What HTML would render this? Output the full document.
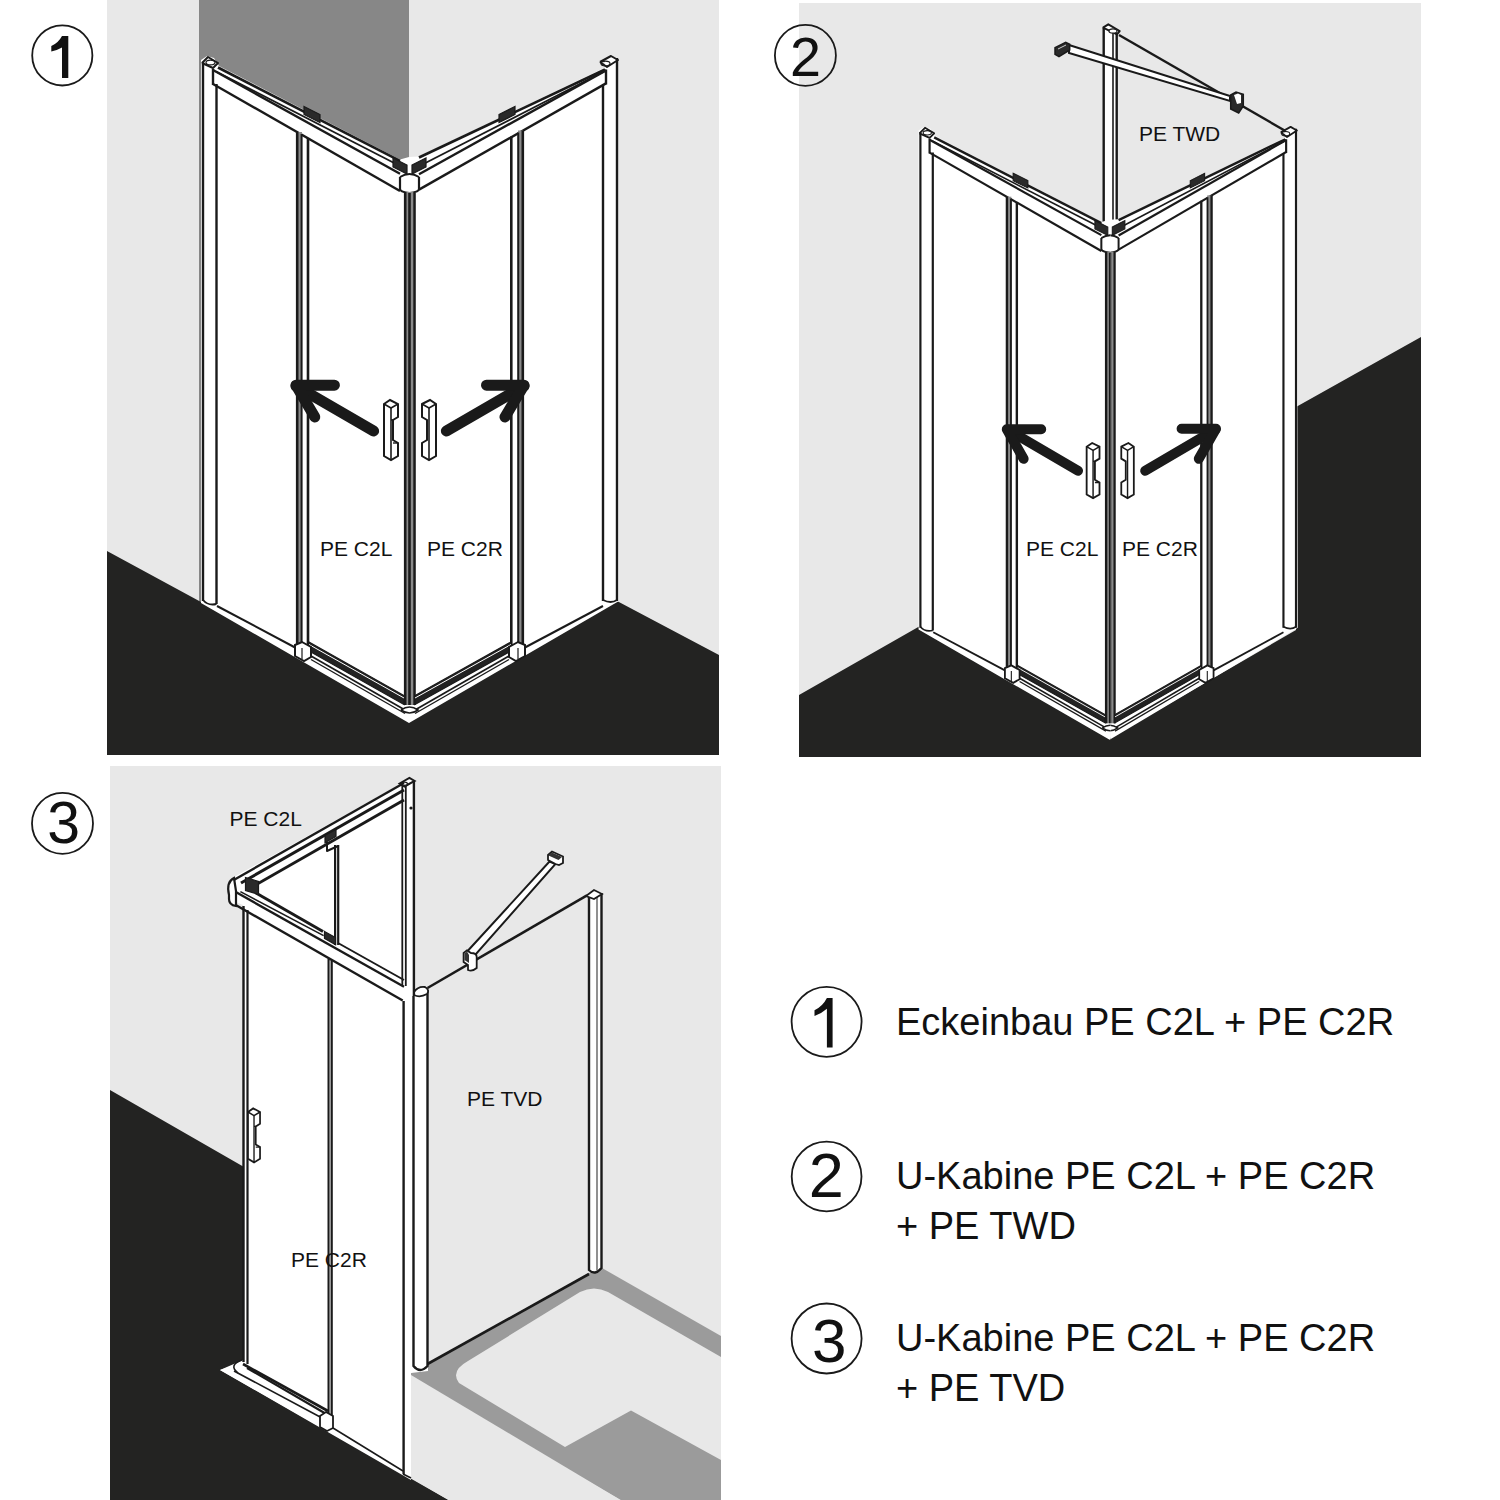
<!DOCTYPE html><html><head><meta charset="utf-8"><style>html,body{margin:0;padding:0;background:#fff;width:1500px;height:1500px;overflow:hidden}svg{display:block}text{font-family:"Liberation Sans",sans-serif;fill:#111}</style></head><body>
<svg width="1500" height="1500" viewBox="0 0 1500 1500">
<rect x="107" y="0" width="612" height="755" fill="#e8e8e8"/>
<rect x="199" y="0" width="210" height="606" fill="#878787"/>
<polygon points="107.0,551.0 201.0,602.0 409.0,722.0 617.0,601.0 719.0,655.0 719.0,755.0 107.0,755.0" fill="#232322" stroke="none" stroke-width="0" />
<polygon points="201.0,60.0 207.0,56.0 214.0,58.0 219.0,66.0 400.0,159.5 409.0,157.0 419.0,156.5 605.0,67.5 605.0,60.0 611.0,56.0 618.0,59.0 619.0,601.0 409.0,723.0 201.0,603.0" fill="#fff" stroke="none" stroke-width="0" />
<line x1="203.0" y1="62.0" x2="203.0" y2="601.0" stroke="#1a1a1a" stroke-width="2.4" />
<line x1="216.5" y1="84.0" x2="216.5" y2="604.0" stroke="#1a1a1a" stroke-width="2.4" />
<polyline points="202.0,63.0 208.0,57.0 218.0,63.0 213.0,68.0 202.0,63.0" fill="none" stroke="#1a1a1a" stroke-width="2" stroke-linejoin="round" />
<ellipse cx="210.5" cy="62.5" rx="4.5" ry="2.4" fill="none" stroke="#1a1a1a" stroke-width="1.2"/>
<line x1="218.0" y1="67.5" x2="400.0" y2="160.8" stroke="#1a1a1a" stroke-width="2.6" />
<line x1="216.0" y1="71.5" x2="400.0" y2="166.0" stroke="#1a1a1a" stroke-width="1.8" />
<line x1="213.0" y1="70.0" x2="400.0" y2="173.8" stroke="#1a1a1a" stroke-width="2.4" />
<line x1="213.0" y1="84.0" x2="400.0" y2="191.0" stroke="#1a1a1a" stroke-width="2.4" />
<line x1="213.0" y1="69.0" x2="213.0" y2="85.0" stroke="#1a1a1a" stroke-width="2.4" />
<line x1="605.0" y1="69.5" x2="419.0" y2="157.5" stroke="#1a1a1a" stroke-width="2.6" />
<line x1="605.0" y1="71.0" x2="419.0" y2="166.3" stroke="#1a1a1a" stroke-width="1.8" />
<line x1="606.0" y1="70.4" x2="419.0" y2="174.2" stroke="#1a1a1a" stroke-width="2.4" />
<line x1="606.0" y1="83.4" x2="419.0" y2="189.6" stroke="#1a1a1a" stroke-width="2.4" />
<line x1="606.0" y1="69.5" x2="606.0" y2="84.5" stroke="#1a1a1a" stroke-width="2.4" />
<line x1="617.0" y1="58.0" x2="617.0" y2="601.0" stroke="#1a1a1a" stroke-width="2.4" />
<line x1="603.0" y1="85.0" x2="603.0" y2="601.0" stroke="#1a1a1a" stroke-width="2.4" />
<polyline points="600.0,62.0 611.0,56.0 618.0,60.0 607.0,67.0 600.0,62.0" fill="none" stroke="#1a1a1a" stroke-width="2" stroke-linejoin="round" />
<ellipse cx="605.5" cy="63.5" rx="4.5" ry="2.4" fill="none" stroke="#1a1a1a" stroke-width="1.2"/>
<path d="M400,177 L400,189 Q400,192 409.5,193 Q419,192 419,189 L419,177" fill="#fff" stroke="#1a1a1a" stroke-width="2.2"/>
<path d="M400,177 Q409.5,171 419,177" fill="none" stroke="#1a1a1a" stroke-width="2"/>
<polygon points="393.0,158.0 407.0,165.0 407.0,174.0 393.0,167.0" fill="#2a2a2a" stroke="#1a1a1a" stroke-width="1.2" />
<polygon points="412.0,165.0 426.0,158.0 426.0,167.0 412.0,174.0" fill="#2a2a2a" stroke="#1a1a1a" stroke-width="1.2" />
<polygon points="304.0,106.5 320.0,114.5 320.0,122.5 304.0,114.5" fill="#2a2a2a" stroke="#1a1a1a" stroke-width="1.2" />
<polygon points="499.0,114.5 515.0,106.5 515.0,114.5 499.0,122.5" fill="#2a2a2a" stroke="#1a1a1a" stroke-width="1.2" />
<rect x="404" y="192" width="11.6" height="513" fill="#8a8a8a"/>
<line x1="405.2" y1="192.0" x2="405.2" y2="705.0" stroke="#1a1a1a" stroke-width="2.6" />
<line x1="409.5" y1="193.0" x2="409.5" y2="705.0" stroke="#1a1a1a" stroke-width="2.6" />
<line x1="414.5" y1="192.0" x2="414.5" y2="705.0" stroke="#1a1a1a" stroke-width="2.4" />
<rect x="297" y="132.0" width="5" height="516.0" fill="#8a8a8a"/>
<line x1="297.2" y1="132.0" x2="297.2" y2="648.0" stroke="#1a1a1a" stroke-width="2.6" />
<line x1="301.6" y1="134.0" x2="301.6" y2="648.0" stroke="#1a1a1a" stroke-width="2.0" />
<line x1="308.0" y1="138.0" x2="308.0" y2="645.0" stroke="#1a1a1a" stroke-width="2.6" />
<rect x="518" y="130.5" width="5" height="517.5" fill="#8a8a8a"/>
<line x1="511.3" y1="136.5" x2="511.3" y2="645.0" stroke="#1a1a1a" stroke-width="2.6" />
<line x1="518.2" y1="132.5" x2="518.2" y2="648.0" stroke="#1a1a1a" stroke-width="2.0" />
<line x1="522.8" y1="130.5" x2="522.8" y2="648.0" stroke="#1a1a1a" stroke-width="2.6" />
<line x1="217.0" y1="606.0" x2="296.0" y2="648.0" stroke="#1a1a1a" stroke-width="2" />
<polygon points="309.0,642.0 404.0,695.5 404.0,704.5 309.0,651.0" fill="#222" stroke="#1a1a1a" stroke-width="1.2" />
<line x1="309.0" y1="644.5" x2="404.0" y2="698.0" stroke="#fff" stroke-width="1.0" />
<line x1="311.0" y1="656.0" x2="405.0" y2="710.0" stroke="#1a1a1a" stroke-width="1.8" />
<line x1="311.0" y1="659.5" x2="405.0" y2="713.5" stroke="#1a1a1a" stroke-width="1.4" />
<polygon points="295.0,645.0 302.0,642.0 311.0,647.0 311.0,657.0 304.0,661.0 295.0,656.0" fill="#fff" stroke="#1a1a1a" stroke-width="2" />
<line x1="302.0" y1="648.0" x2="302.0" y2="659.0" stroke="#1a1a1a" stroke-width="1.2" />
<line x1="603.0" y1="606.0" x2="524.0" y2="648.0" stroke="#1a1a1a" stroke-width="2" />
<polygon points="511.0,642.0 415.0,695.5 415.0,704.5 511.0,651.0" fill="#222" stroke="#1a1a1a" stroke-width="1.2" />
<line x1="511.0" y1="644.5" x2="415.0" y2="698.0" stroke="#fff" stroke-width="1.0" />
<line x1="509.0" y1="656.0" x2="415.0" y2="710.0" stroke="#1a1a1a" stroke-width="1.8" />
<line x1="509.0" y1="659.5" x2="415.0" y2="713.5" stroke="#1a1a1a" stroke-width="1.4" />
<polygon points="525.0,645.0 518.0,642.0 509.0,647.0 509.0,657.0 516.0,661.0 525.0,656.0" fill="#fff" stroke="#1a1a1a" stroke-width="2" />
<line x1="518.0" y1="648.0" x2="518.0" y2="659.0" stroke="#1a1a1a" stroke-width="1.2" />
<path d="M401,710 Q409.5,704 418,710 Q409.5,716 401,710" fill="#fff" stroke="#1a1a1a" stroke-width="1.6"/>
<path d="M203,600 Q208,606 216.5,604" fill="none" stroke="#1a1a1a" stroke-width="1.8"/>
<path d="M603,600 Q611,604 617,600" fill="none" stroke="#1a1a1a" stroke-width="1.8"/>
<polyline points="373.6,431.0 296.0,386.0" fill="none" stroke="#1a1a1a" stroke-width="11" stroke-linejoin="round" stroke-linecap="round"/>
<polyline points="334.4,385.2 296.0,385.2 314.8,417.0" fill="none" stroke="#1a1a1a" stroke-width="11" stroke-linejoin="round" stroke-linecap="round"/>
<polyline points="446.4,431.0 524.0,386.0" fill="none" stroke="#1a1a1a" stroke-width="11" stroke-linejoin="round" stroke-linecap="round"/>
<polyline points="486.5,385.2 524.0,385.2 505.0,417.0" fill="none" stroke="#1a1a1a" stroke-width="11" stroke-linejoin="round" stroke-linecap="round"/>
<polygon points="384.0,404.0 390.0,400.0 398.0,404.0 398.0,417.0 393.0,420.0 393.0,440.0 398.0,443.0 398.0,456.0 391.0,460.0 384.0,456.0" fill="#fff" stroke="#1a1a1a" stroke-width="2" />
<polyline points="384.0,404.0 391.0,408.0 398.0,404.0" fill="none" stroke="#1a1a1a" stroke-width="1.6" stroke-linejoin="round" />
<polyline points="391.0,408.0 391.0,460.0" fill="none" stroke="#1a1a1a" stroke-width="1.6" stroke-linejoin="round" />
<polyline points="391.0,420.0 393.0,420.0" fill="none" stroke="#1a1a1a" stroke-width="1.4" stroke-linejoin="round" />
<polyline points="393.0,443.0 398.0,443.0" fill="none" stroke="#1a1a1a" stroke-width="1.4" stroke-linejoin="round" />
<polygon points="422.0,404.0 430.0,400.0 436.0,404.0 436.0,456.0 429.0,460.0 422.0,456.0 422.0,443.0 427.0,440.0 427.0,420.0 422.0,417.0" fill="#fff" stroke="#1a1a1a" stroke-width="2" />
<polyline points="422.0,404.0 429.0,408.0 436.0,404.0" fill="none" stroke="#1a1a1a" stroke-width="1.6" stroke-linejoin="round" />
<polyline points="429.0,408.0 429.0,460.0" fill="none" stroke="#1a1a1a" stroke-width="1.6" stroke-linejoin="round" />
<text x="320" y="556" font-size="21" text-anchor="start">PE C2L</text>
<text x="427" y="556" font-size="21" text-anchor="start">PE C2R</text>
<circle cx="62.3" cy="55.4" r="30.1" fill="none" stroke="#1a1a1a" stroke-width="1.8"/><path d="M62,36 L68.3,36 L68.3,78 L62,78 L62,47.5 Q57.2,50.3 51.3,51.5 L51.3,46 Q58.3,43.0 62,36 Z" fill="#111"/>
<rect x="799" y="3" width="622" height="754" fill="#e8e8e8"/>
<polygon points="799.0,695.0 920.0,626.0 1110.0,738.0 1296.0,630.0 1296.0,407.0 1421.0,337.0 1421.0,757.0 799.0,757.0" fill="#232322" stroke="none" stroke-width="0" />
<polygon points="1103.7,28.0 1108.3,24.3 1119.7,31.0 1116.7,34.0 1116.7,236.0 1103.7,236.0" fill="#fff" stroke="none" stroke-width="0" />
<line x1="1103.7" y1="27.0" x2="1103.7" y2="232.0" stroke="#1a1a1a" stroke-width="2.4" />
<line x1="1116.7" y1="33.0" x2="1116.7" y2="232.0" stroke="#1a1a1a" stroke-width="2.4" />
<line x1="1113.0" y1="33.0" x2="1113.0" y2="232.0" stroke="#1a1a1a" stroke-width="1.6" />
<polyline points="1103.0,27.7 1108.3,24.3 1119.7,31.0 1117.0,34.3 1103.0,27.7" fill="none" stroke="#1a1a1a" stroke-width="2" stroke-linejoin="round" />
<ellipse cx="1113" cy="31" rx="4" ry="2.2" fill="#fff" stroke="#1a1a1a" stroke-width="1.2"/>
<line x1="1119.0" y1="35.0" x2="1289.0" y2="133.0" stroke="#1a1a1a" stroke-width="2.4" />
<polygon points="1069.0,45.0 1230.0,96.0 1230.0,101.0 1069.0,53.0" fill="#fff" stroke="#1a1a1a" stroke-width="2" />
<polygon points="1055.0,47.7 1065.7,42.3 1069.7,44.3 1069.7,50.0 1059.0,56.7 1055.0,54.3" fill="#2a2a2a" stroke="#1a1a1a" stroke-width="1.5" />
<line x1="1058.0" y1="49.0" x2="1066.0" y2="45.0" stroke="#ccc" stroke-width="1" />
<polygon points="1230.7,95.0 1236.0,92.0 1243.3,94.3 1243.3,106.0 1238.7,113.0 1230.7,109.0" fill="#2a2a2a" stroke="#1a1a1a" stroke-width="1.5" />
<polygon points="1234.0,95.0 1238.0,93.5 1241.0,95.0 1241.0,103.0 1237.0,104.0" fill="#fff" stroke="none" stroke-width="0" />
<defs><clipPath id="clL" clipPathUnits="userSpaceOnUse"><rect x="150" y="0" width="259.75" height="800"/></clipPath><clipPath id="clR" clipPathUnits="userSpaceOnUse"><rect x="409.75" y="0" width="260" height="800"/></clipPath></defs>
<g transform="translate(920.4,128.7) scale(0.9185,0.919) translate(-203,-58)"><g clip-path="url(#clL)"><polygon points="201.0,60.0 207.0,56.0 214.0,58.0 219.0,66.0 400.0,159.5 409.0,157.0 419.0,156.5 605.0,67.5 605.0,60.0 611.0,56.0 618.0,59.0 619.0,601.0 409.0,723.0 201.0,603.0" fill="#fff" stroke="none" stroke-width="0" />
<line x1="203.0" y1="62.0" x2="203.0" y2="601.0" stroke="#1a1a1a" stroke-width="2.4" />
<line x1="216.5" y1="84.0" x2="216.5" y2="604.0" stroke="#1a1a1a" stroke-width="2.4" />
<polyline points="202.0,63.0 208.0,57.0 218.0,63.0 213.0,68.0 202.0,63.0" fill="none" stroke="#1a1a1a" stroke-width="2" stroke-linejoin="round" />
<ellipse cx="210.5" cy="62.5" rx="4.5" ry="2.4" fill="none" stroke="#1a1a1a" stroke-width="1.2"/>
<line x1="218.0" y1="67.5" x2="400.0" y2="160.8" stroke="#1a1a1a" stroke-width="2.6" />
<line x1="216.0" y1="71.5" x2="400.0" y2="166.0" stroke="#1a1a1a" stroke-width="1.8" />
<line x1="213.0" y1="70.0" x2="400.0" y2="173.8" stroke="#1a1a1a" stroke-width="2.4" />
<line x1="213.0" y1="84.0" x2="400.0" y2="191.0" stroke="#1a1a1a" stroke-width="2.4" />
<line x1="213.0" y1="69.0" x2="213.0" y2="85.0" stroke="#1a1a1a" stroke-width="2.4" />
<line x1="605.0" y1="69.5" x2="419.0" y2="157.5" stroke="#1a1a1a" stroke-width="2.6" />
<line x1="605.0" y1="71.0" x2="419.0" y2="166.3" stroke="#1a1a1a" stroke-width="1.8" />
<line x1="606.0" y1="70.4" x2="419.0" y2="174.2" stroke="#1a1a1a" stroke-width="2.4" />
<line x1="606.0" y1="83.4" x2="419.0" y2="189.6" stroke="#1a1a1a" stroke-width="2.4" />
<line x1="606.0" y1="69.5" x2="606.0" y2="84.5" stroke="#1a1a1a" stroke-width="2.4" />
<line x1="617.0" y1="58.0" x2="617.0" y2="601.0" stroke="#1a1a1a" stroke-width="2.4" />
<line x1="603.0" y1="85.0" x2="603.0" y2="601.0" stroke="#1a1a1a" stroke-width="2.4" />
<polyline points="600.0,62.0 611.0,56.0 618.0,60.0 607.0,67.0 600.0,62.0" fill="none" stroke="#1a1a1a" stroke-width="2" stroke-linejoin="round" />
<ellipse cx="605.5" cy="63.5" rx="4.5" ry="2.4" fill="none" stroke="#1a1a1a" stroke-width="1.2"/>
<path d="M400,177 L400,189 Q400,192 409.5,193 Q419,192 419,189 L419,177" fill="#fff" stroke="#1a1a1a" stroke-width="2.2"/>
<path d="M400,177 Q409.5,171 419,177" fill="none" stroke="#1a1a1a" stroke-width="2"/>
<polygon points="393.0,158.0 407.0,165.0 407.0,174.0 393.0,167.0" fill="#2a2a2a" stroke="#1a1a1a" stroke-width="1.2" />
<polygon points="412.0,165.0 426.0,158.0 426.0,167.0 412.0,174.0" fill="#2a2a2a" stroke="#1a1a1a" stroke-width="1.2" />
<polygon points="304.0,106.5 320.0,114.5 320.0,122.5 304.0,114.5" fill="#2a2a2a" stroke="#1a1a1a" stroke-width="1.2" />
<polygon points="499.0,114.5 515.0,106.5 515.0,114.5 499.0,122.5" fill="#2a2a2a" stroke="#1a1a1a" stroke-width="1.2" />
<rect x="404" y="192" width="11.6" height="513" fill="#8a8a8a"/>
<line x1="405.2" y1="192.0" x2="405.2" y2="705.0" stroke="#1a1a1a" stroke-width="2.6" />
<line x1="409.5" y1="193.0" x2="409.5" y2="705.0" stroke="#1a1a1a" stroke-width="2.6" />
<line x1="414.5" y1="192.0" x2="414.5" y2="705.0" stroke="#1a1a1a" stroke-width="2.4" />
<rect x="297" y="132.0" width="5" height="516.0" fill="#8a8a8a"/>
<line x1="297.2" y1="132.0" x2="297.2" y2="648.0" stroke="#1a1a1a" stroke-width="2.6" />
<line x1="301.6" y1="134.0" x2="301.6" y2="648.0" stroke="#1a1a1a" stroke-width="2.0" />
<line x1="308.0" y1="138.0" x2="308.0" y2="645.0" stroke="#1a1a1a" stroke-width="2.6" />
<rect x="518" y="130.5" width="5" height="517.5" fill="#8a8a8a"/>
<line x1="511.3" y1="136.5" x2="511.3" y2="645.0" stroke="#1a1a1a" stroke-width="2.6" />
<line x1="518.2" y1="132.5" x2="518.2" y2="648.0" stroke="#1a1a1a" stroke-width="2.0" />
<line x1="522.8" y1="130.5" x2="522.8" y2="648.0" stroke="#1a1a1a" stroke-width="2.6" />
<line x1="217.0" y1="606.0" x2="296.0" y2="648.0" stroke="#1a1a1a" stroke-width="2" />
<polygon points="309.0,642.0 404.0,695.5 404.0,704.5 309.0,651.0" fill="#222" stroke="#1a1a1a" stroke-width="1.2" />
<line x1="309.0" y1="644.5" x2="404.0" y2="698.0" stroke="#fff" stroke-width="1.0" />
<line x1="311.0" y1="656.0" x2="405.0" y2="710.0" stroke="#1a1a1a" stroke-width="1.8" />
<line x1="311.0" y1="659.5" x2="405.0" y2="713.5" stroke="#1a1a1a" stroke-width="1.4" />
<polygon points="295.0,645.0 302.0,642.0 311.0,647.0 311.0,657.0 304.0,661.0 295.0,656.0" fill="#fff" stroke="#1a1a1a" stroke-width="2" />
<line x1="302.0" y1="648.0" x2="302.0" y2="659.0" stroke="#1a1a1a" stroke-width="1.2" />
<line x1="603.0" y1="606.0" x2="524.0" y2="648.0" stroke="#1a1a1a" stroke-width="2" />
<polygon points="511.0,642.0 415.0,695.5 415.0,704.5 511.0,651.0" fill="#222" stroke="#1a1a1a" stroke-width="1.2" />
<line x1="511.0" y1="644.5" x2="415.0" y2="698.0" stroke="#fff" stroke-width="1.0" />
<line x1="509.0" y1="656.0" x2="415.0" y2="710.0" stroke="#1a1a1a" stroke-width="1.8" />
<line x1="509.0" y1="659.5" x2="415.0" y2="713.5" stroke="#1a1a1a" stroke-width="1.4" />
<polygon points="525.0,645.0 518.0,642.0 509.0,647.0 509.0,657.0 516.0,661.0 525.0,656.0" fill="#fff" stroke="#1a1a1a" stroke-width="2" />
<line x1="518.0" y1="648.0" x2="518.0" y2="659.0" stroke="#1a1a1a" stroke-width="1.2" />
<path d="M401,710 Q409.5,704 418,710 Q409.5,716 401,710" fill="#fff" stroke="#1a1a1a" stroke-width="1.6"/>
<path d="M203,600 Q208,606 216.5,604" fill="none" stroke="#1a1a1a" stroke-width="1.8"/>
<path d="M603,600 Q611,604 617,600" fill="none" stroke="#1a1a1a" stroke-width="1.8"/>
<polygon points="384.0,404.0 390.0,400.0 398.0,404.0 398.0,417.0 393.0,420.0 393.0,440.0 398.0,443.0 398.0,456.0 391.0,460.0 384.0,456.0" fill="#fff" stroke="#1a1a1a" stroke-width="2" />
<polyline points="384.0,404.0 391.0,408.0 398.0,404.0" fill="none" stroke="#1a1a1a" stroke-width="1.6" stroke-linejoin="round" />
<polyline points="391.0,408.0 391.0,460.0" fill="none" stroke="#1a1a1a" stroke-width="1.6" stroke-linejoin="round" />
<polyline points="391.0,420.0 393.0,420.0" fill="none" stroke="#1a1a1a" stroke-width="1.4" stroke-linejoin="round" />
<polyline points="393.0,443.0 398.0,443.0" fill="none" stroke="#1a1a1a" stroke-width="1.4" stroke-linejoin="round" />
<polygon points="422.0,404.0 430.0,400.0 436.0,404.0 436.0,456.0 429.0,460.0 422.0,456.0 422.0,443.0 427.0,440.0 427.0,420.0 422.0,417.0" fill="#fff" stroke="#1a1a1a" stroke-width="2" />
<polyline points="422.0,404.0 429.0,408.0 436.0,404.0" fill="none" stroke="#1a1a1a" stroke-width="1.6" stroke-linejoin="round" />
<polyline points="429.0,408.0 429.0,460.0" fill="none" stroke="#1a1a1a" stroke-width="1.6" stroke-linejoin="round" /></g></g>
<g transform="translate(1110.3,128.7) scale(0.896,0.919) translate(-409.75,-58)"><g clip-path="url(#clR)"><polygon points="201.0,60.0 207.0,56.0 214.0,58.0 219.0,66.0 400.0,159.5 409.0,157.0 419.0,156.5 605.0,67.5 605.0,60.0 611.0,56.0 618.0,59.0 619.0,601.0 409.0,723.0 201.0,603.0" fill="#fff" stroke="none" stroke-width="0" />
<line x1="203.0" y1="62.0" x2="203.0" y2="601.0" stroke="#1a1a1a" stroke-width="2.4" />
<line x1="216.5" y1="84.0" x2="216.5" y2="604.0" stroke="#1a1a1a" stroke-width="2.4" />
<polyline points="202.0,63.0 208.0,57.0 218.0,63.0 213.0,68.0 202.0,63.0" fill="none" stroke="#1a1a1a" stroke-width="2" stroke-linejoin="round" />
<ellipse cx="210.5" cy="62.5" rx="4.5" ry="2.4" fill="none" stroke="#1a1a1a" stroke-width="1.2"/>
<line x1="218.0" y1="67.5" x2="400.0" y2="160.8" stroke="#1a1a1a" stroke-width="2.6" />
<line x1="216.0" y1="71.5" x2="400.0" y2="166.0" stroke="#1a1a1a" stroke-width="1.8" />
<line x1="213.0" y1="70.0" x2="400.0" y2="173.8" stroke="#1a1a1a" stroke-width="2.4" />
<line x1="213.0" y1="84.0" x2="400.0" y2="191.0" stroke="#1a1a1a" stroke-width="2.4" />
<line x1="213.0" y1="69.0" x2="213.0" y2="85.0" stroke="#1a1a1a" stroke-width="2.4" />
<line x1="605.0" y1="69.5" x2="419.0" y2="157.5" stroke="#1a1a1a" stroke-width="2.6" />
<line x1="605.0" y1="71.0" x2="419.0" y2="166.3" stroke="#1a1a1a" stroke-width="1.8" />
<line x1="606.0" y1="70.4" x2="419.0" y2="174.2" stroke="#1a1a1a" stroke-width="2.4" />
<line x1="606.0" y1="83.4" x2="419.0" y2="189.6" stroke="#1a1a1a" stroke-width="2.4" />
<line x1="606.0" y1="69.5" x2="606.0" y2="84.5" stroke="#1a1a1a" stroke-width="2.4" />
<line x1="617.0" y1="58.0" x2="617.0" y2="601.0" stroke="#1a1a1a" stroke-width="2.4" />
<line x1="603.0" y1="85.0" x2="603.0" y2="601.0" stroke="#1a1a1a" stroke-width="2.4" />
<polyline points="600.0,62.0 611.0,56.0 618.0,60.0 607.0,67.0 600.0,62.0" fill="none" stroke="#1a1a1a" stroke-width="2" stroke-linejoin="round" />
<ellipse cx="605.5" cy="63.5" rx="4.5" ry="2.4" fill="none" stroke="#1a1a1a" stroke-width="1.2"/>
<path d="M400,177 L400,189 Q400,192 409.5,193 Q419,192 419,189 L419,177" fill="#fff" stroke="#1a1a1a" stroke-width="2.2"/>
<path d="M400,177 Q409.5,171 419,177" fill="none" stroke="#1a1a1a" stroke-width="2"/>
<polygon points="393.0,158.0 407.0,165.0 407.0,174.0 393.0,167.0" fill="#2a2a2a" stroke="#1a1a1a" stroke-width="1.2" />
<polygon points="412.0,165.0 426.0,158.0 426.0,167.0 412.0,174.0" fill="#2a2a2a" stroke="#1a1a1a" stroke-width="1.2" />
<polygon points="304.0,106.5 320.0,114.5 320.0,122.5 304.0,114.5" fill="#2a2a2a" stroke="#1a1a1a" stroke-width="1.2" />
<polygon points="499.0,114.5 515.0,106.5 515.0,114.5 499.0,122.5" fill="#2a2a2a" stroke="#1a1a1a" stroke-width="1.2" />
<rect x="404" y="192" width="11.6" height="513" fill="#8a8a8a"/>
<line x1="405.2" y1="192.0" x2="405.2" y2="705.0" stroke="#1a1a1a" stroke-width="2.6" />
<line x1="409.5" y1="193.0" x2="409.5" y2="705.0" stroke="#1a1a1a" stroke-width="2.6" />
<line x1="414.5" y1="192.0" x2="414.5" y2="705.0" stroke="#1a1a1a" stroke-width="2.4" />
<rect x="297" y="132.0" width="5" height="516.0" fill="#8a8a8a"/>
<line x1="297.2" y1="132.0" x2="297.2" y2="648.0" stroke="#1a1a1a" stroke-width="2.6" />
<line x1="301.6" y1="134.0" x2="301.6" y2="648.0" stroke="#1a1a1a" stroke-width="2.0" />
<line x1="308.0" y1="138.0" x2="308.0" y2="645.0" stroke="#1a1a1a" stroke-width="2.6" />
<rect x="518" y="130.5" width="5" height="517.5" fill="#8a8a8a"/>
<line x1="511.3" y1="136.5" x2="511.3" y2="645.0" stroke="#1a1a1a" stroke-width="2.6" />
<line x1="518.2" y1="132.5" x2="518.2" y2="648.0" stroke="#1a1a1a" stroke-width="2.0" />
<line x1="522.8" y1="130.5" x2="522.8" y2="648.0" stroke="#1a1a1a" stroke-width="2.6" />
<line x1="217.0" y1="606.0" x2="296.0" y2="648.0" stroke="#1a1a1a" stroke-width="2" />
<polygon points="309.0,642.0 404.0,695.5 404.0,704.5 309.0,651.0" fill="#222" stroke="#1a1a1a" stroke-width="1.2" />
<line x1="309.0" y1="644.5" x2="404.0" y2="698.0" stroke="#fff" stroke-width="1.0" />
<line x1="311.0" y1="656.0" x2="405.0" y2="710.0" stroke="#1a1a1a" stroke-width="1.8" />
<line x1="311.0" y1="659.5" x2="405.0" y2="713.5" stroke="#1a1a1a" stroke-width="1.4" />
<polygon points="295.0,645.0 302.0,642.0 311.0,647.0 311.0,657.0 304.0,661.0 295.0,656.0" fill="#fff" stroke="#1a1a1a" stroke-width="2" />
<line x1="302.0" y1="648.0" x2="302.0" y2="659.0" stroke="#1a1a1a" stroke-width="1.2" />
<line x1="603.0" y1="606.0" x2="524.0" y2="648.0" stroke="#1a1a1a" stroke-width="2" />
<polygon points="511.0,642.0 415.0,695.5 415.0,704.5 511.0,651.0" fill="#222" stroke="#1a1a1a" stroke-width="1.2" />
<line x1="511.0" y1="644.5" x2="415.0" y2="698.0" stroke="#fff" stroke-width="1.0" />
<line x1="509.0" y1="656.0" x2="415.0" y2="710.0" stroke="#1a1a1a" stroke-width="1.8" />
<line x1="509.0" y1="659.5" x2="415.0" y2="713.5" stroke="#1a1a1a" stroke-width="1.4" />
<polygon points="525.0,645.0 518.0,642.0 509.0,647.0 509.0,657.0 516.0,661.0 525.0,656.0" fill="#fff" stroke="#1a1a1a" stroke-width="2" />
<line x1="518.0" y1="648.0" x2="518.0" y2="659.0" stroke="#1a1a1a" stroke-width="1.2" />
<path d="M401,710 Q409.5,704 418,710 Q409.5,716 401,710" fill="#fff" stroke="#1a1a1a" stroke-width="1.6"/>
<path d="M203,600 Q208,606 216.5,604" fill="none" stroke="#1a1a1a" stroke-width="1.8"/>
<path d="M603,600 Q611,604 617,600" fill="none" stroke="#1a1a1a" stroke-width="1.8"/>
<polygon points="384.0,404.0 390.0,400.0 398.0,404.0 398.0,417.0 393.0,420.0 393.0,440.0 398.0,443.0 398.0,456.0 391.0,460.0 384.0,456.0" fill="#fff" stroke="#1a1a1a" stroke-width="2" />
<polyline points="384.0,404.0 391.0,408.0 398.0,404.0" fill="none" stroke="#1a1a1a" stroke-width="1.6" stroke-linejoin="round" />
<polyline points="391.0,408.0 391.0,460.0" fill="none" stroke="#1a1a1a" stroke-width="1.6" stroke-linejoin="round" />
<polyline points="391.0,420.0 393.0,420.0" fill="none" stroke="#1a1a1a" stroke-width="1.4" stroke-linejoin="round" />
<polyline points="393.0,443.0 398.0,443.0" fill="none" stroke="#1a1a1a" stroke-width="1.4" stroke-linejoin="round" />
<polygon points="422.0,404.0 430.0,400.0 436.0,404.0 436.0,456.0 429.0,460.0 422.0,456.0 422.0,443.0 427.0,440.0 427.0,420.0 422.0,417.0" fill="#fff" stroke="#1a1a1a" stroke-width="2" />
<polyline points="422.0,404.0 429.0,408.0 436.0,404.0" fill="none" stroke="#1a1a1a" stroke-width="1.6" stroke-linejoin="round" />
<polyline points="429.0,408.0 429.0,460.0" fill="none" stroke="#1a1a1a" stroke-width="1.6" stroke-linejoin="round" /></g></g>
<polyline points="1078.0,470.8 1007.5,429.5" fill="none" stroke="#1a1a1a" stroke-width="10" stroke-linejoin="round" stroke-linecap="round"/>
<polyline points="1041.2,429.2 1006.8,429.2 1023.6,458.8" fill="none" stroke="#1a1a1a" stroke-width="10" stroke-linejoin="round" stroke-linecap="round"/>
<polyline points="1145.2,470.8 1215.5,429.5" fill="none" stroke="#1a1a1a" stroke-width="10" stroke-linejoin="round" stroke-linecap="round"/>
<polyline points="1181.6,428.8 1216.0,428.8 1198.8,458.8" fill="none" stroke="#1a1a1a" stroke-width="10" stroke-linejoin="round" stroke-linecap="round"/>
<text x="1026" y="556" font-size="21" text-anchor="start">PE C2L</text>
<text x="1122" y="556" font-size="21" text-anchor="start">PE C2R</text>
<text x="1139" y="141" font-size="21" text-anchor="start">PE TWD</text>
<circle cx="805.4" cy="55.4" r="30.5" fill="none" stroke="#1a1a1a" stroke-width="1.8"/><text x="789.96" y="75.75" font-size="55.7">2</text>
<rect x="110" y="766" width="611" height="734" fill="#e8e8e8"/>
<polygon points="110.0,1090.0 244.0,1167.0 244.0,1362.0 220.0,1370.0 452.0,1502.0 110.0,1502.0" fill="#232322" stroke="none" stroke-width="0" />
<polygon points="411.0,1373.0 427.0,1364.0 589.0,1273.0 602.0,1268.0 721.0,1336.0 721.0,1502.0 624.0,1502.0 411.0,1379.0" fill="#9b9b9b" stroke="none" stroke-width="0" />
<path d="M468,1361 Q450,1371 459,1383 L565,1447 L631,1410.6 L721,1460 L721,1357 L608,1292 Q594,1285 580,1292 Z" fill="#e8e8e8"/>
<polygon points="411.0,1375.0 624.0,1502.0 452.0,1502.0 411.0,1478.0" fill="#e8e8e8" stroke="none" stroke-width="0" />
<polygon points="231.0,880.0 236.0,876.0 404.0,782.0 414.0,780.0 414.0,1000.0 428.0,992.0 428.0,1371.0 411.0,1373.0 411.0,1480.0 220.0,1370.0 243.0,1360.0 243.0,905.0 231.0,900.0" fill="#fff" stroke="none" stroke-width="0" />
<path d="M413.5,996 L413.5,1366 Q420,1374 427.5,1366 L427.5,990" fill="#fff" stroke="#1a1a1a" stroke-width="2.4"/>
<path d="M414,992 Q418,986 425,987 Q430,990 427,994 Q420,998 414,995 Z" fill="#fff" stroke="#1a1a1a" stroke-width="1.8"/>
<line x1="427.5" y1="988.0" x2="587.0" y2="895.3" stroke="#1a1a1a" stroke-width="2.6" />
<line x1="427.5" y1="1364.0" x2="589.0" y2="1274.0" stroke="#1a1a1a" stroke-width="2.6" />
<path d="M589,897 L589,1270 Q595,1276 601.5,1268 L601.5,893" fill="#fff" stroke="#1a1a1a" stroke-width="2.4"/>
<line x1="597.0" y1="893.0" x2="597.0" y2="1270.0" stroke="#555" stroke-width="1.3" />
<path d="M586,896 L594,890 L602,894 L594,899 Z" fill="#fff" stroke="#1a1a1a" stroke-width="1.8"/>
<polygon points="466.7,952.0 549.5,861.5 555.5,864.0 473.6,956.6" fill="#fff" stroke="#1a1a1a" stroke-width="2" />
<polygon points="548.0,855.0 552.0,851.5 563.0,856.5 563.0,863.0 559.0,865.0 555.5,864.0 548.0,860.0" fill="#fff" stroke="#1a1a1a" stroke-width="1.8" />
<polygon points="548.5,855.5 552.0,852.5 562.0,857.0 558.5,860.0" fill="#333" stroke="none" stroke-width="0" />
<path d="M463.6,953 L467,950.4 L471,953 Q476.7,953 476.7,957 L476.7,968 Q472,972 468,970 L468,965 L463.6,962 Z" fill="#fff" stroke="#1a1a1a" stroke-width="1.8"/>
<polygon points="464.5,953.5 467.0,951.5 469.0,955.0 469.0,963.0 464.5,960.0" fill="#333" stroke="none" stroke-width="0" />
<line x1="413.9" y1="781.0" x2="413.9" y2="996.0" stroke="#1a1a1a" stroke-width="2.4" />
<line x1="405.8" y1="786.0" x2="405.8" y2="986.0" stroke="#1a1a1a" stroke-width="1.8" />
<polygon points="399.6,783.5 409.4,777.8 414.6,781.0 404.5,786.5" fill="#fff" stroke="#1a1a1a" stroke-width="2" />
<ellipse cx="404.2" cy="783.8" rx="3.2" ry="1.6" fill="#fff" stroke="#1a1a1a" stroke-width="1.2"/>
<line x1="402.3" y1="786.0" x2="402.3" y2="986.0" stroke="#1a1a1a" stroke-width="1.8" />
<circle cx="411" cy="808" r="1.6" fill="#1a1a1a"/>
<line x1="232.0" y1="881.0" x2="404.0" y2="783.0" stroke="#1a1a1a" stroke-width="2.4" />
<line x1="241.0" y1="883.0" x2="404.0" y2="790.0" stroke="#1a1a1a" stroke-width="3" />
<line x1="252.0" y1="887.0" x2="404.0" y2="800.0" stroke="#1a1a1a" stroke-width="3" />
<line x1="335.1" y1="845.0" x2="335.1" y2="945.0" stroke="#1a1a1a" stroke-width="2.2" />
<line x1="338.2" y1="845.0" x2="338.2" y2="945.0" stroke="#1a1a1a" stroke-width="2.2" />
<polygon points="325.0,835.6 336.0,829.4 336.0,836.4 325.0,842.6" fill="#2a2a2a" stroke="#1a1a1a" stroke-width="1.2" />
<polyline points="327.0,842.0 327.0,851.0 338.0,846.0" fill="none" stroke="#1a1a1a" stroke-width="2" stroke-linejoin="round" />
<line x1="256.0" y1="893.0" x2="323.0" y2="931.5" stroke="#1a1a1a" stroke-width="3" />
<line x1="240.4" y1="891.6" x2="323.6" y2="935.6" stroke="#1a1a1a" stroke-width="1.6" />
<line x1="338.0" y1="943.0" x2="404.0" y2="980.0" stroke="#1a1a1a" stroke-width="2" />
<line x1="234.0" y1="891.0" x2="404.0" y2="986.7" stroke="#1a1a1a" stroke-width="2.4" />
<line x1="234.0" y1="904.0" x2="402.7" y2="1000.5" stroke="#1a1a1a" stroke-width="2.4" />
<polygon points="324.5,931.4 335.5,937.6 335.5,944.6 324.5,938.4" fill="#2a2a2a" stroke="#1a1a1a" stroke-width="1.2" />
<path d="M234,878 Q226,882 229,895 L229,899 Q229,905 236,906 L236,891 Z" fill="#fff" stroke="#1a1a1a" stroke-width="2.2"/>
<polygon points="245.5,877.5 258.5,881.5 258.5,894.5 245.5,890.5" fill="#2a2a2a" stroke="#1a1a1a" stroke-width="1.2" />
<line x1="243.5" y1="906.0" x2="243.5" y2="1362.0" stroke="#1a1a1a" stroke-width="2.4" />
<line x1="247.5" y1="910.0" x2="247.5" y2="1364.0" stroke="#1a1a1a" stroke-width="2.2" />
<line x1="328.6" y1="959.0" x2="328.6" y2="1420.0" stroke="#1a1a1a" stroke-width="2.2" />
<line x1="331.7" y1="960.0" x2="331.7" y2="1420.0" stroke="#1a1a1a" stroke-width="2.2" />
<line x1="330.2" y1="961.0" x2="330.2" y2="1418.0" stroke="#999" stroke-width="1.2" />
<line x1="403.6" y1="1001.0" x2="403.6" y2="1474.0" stroke="#1a1a1a" stroke-width="2.4" />
<line x1="243.0" y1="1364.0" x2="328.0" y2="1411.0" stroke="#1a1a1a" stroke-width="2.6" />
<line x1="247.0" y1="1368.0" x2="328.0" y2="1415.0" stroke="#1a1a1a" stroke-width="2.2" />
<line x1="234.0" y1="1371.0" x2="322.0" y2="1418.0" stroke="#1a1a1a" stroke-width="1.6" />
<path d="M242,1360 Q228,1365 238,1373" fill="none" stroke="#1a1a1a" stroke-width="1.6"/>
<polygon points="320.0,1416.0 326.0,1412.0 333.0,1416.0 333.0,1428.0 327.0,1431.0 320.0,1427.0" fill="#fff" stroke="#1a1a1a" stroke-width="1.8" />
<line x1="333.0" y1="1428.0" x2="403.0" y2="1471.0" stroke="#1a1a1a" stroke-width="1.6" />
<line x1="403.0" y1="1474.0" x2="411.0" y2="1478.0" stroke="#1a1a1a" stroke-width="1.6" />
<g transform="translate(248,1107.5) scale(0.86,0.9) translate(-248,-1108)"><polygon points="248.0,1113.0 254.0,1109.0 262.0,1113.0 262.0,1126.0 257.0,1129.0 257.0,1149.0 262.0,1152.0 262.0,1165.0 255.0,1169.0 248.0,1165.0" fill="#fff" stroke="#1a1a1a" stroke-width="2" />
<polyline points="248.0,1113.0 255.0,1117.0 262.0,1113.0" fill="none" stroke="#1a1a1a" stroke-width="1.6" stroke-linejoin="round" />
<polyline points="255.0,1117.0 255.0,1169.0" fill="none" stroke="#1a1a1a" stroke-width="1.6" stroke-linejoin="round" />
<polyline points="255.0,1129.0 257.0,1129.0" fill="none" stroke="#1a1a1a" stroke-width="1.4" stroke-linejoin="round" />
<polyline points="257.0,1152.0 262.0,1152.0" fill="none" stroke="#1a1a1a" stroke-width="1.4" stroke-linejoin="round" /></g>
<text x="229.5" y="826" font-size="21" text-anchor="start">PE C2L</text>
<text x="291" y="1267" font-size="21" text-anchor="start">PE C2R</text>
<text x="467" y="1106" font-size="21" text-anchor="start">PE TVD</text>
<circle cx="62.5" cy="823.4" r="30.5" fill="none" stroke="#1a1a1a" stroke-width="1.8"/><text x="47.3" y="843.2" font-size="59">3</text>
<circle cx="826.6" cy="1021.8" r="35" fill="none" stroke="#1a1a1a" stroke-width="1.8"/><path d="M826.9,998 L832.6,998 L832.6,1047.6 L826.9,1047.6 L826.9,1008.8 Q821.3,1013.8 814.5,1015.9 L814.5,1010.2 Q822.6,1006.5 826.9,998 Z" fill="#111"/>
<circle cx="826.6" cy="1176.5" r="34.9" fill="none" stroke="#1a1a1a" stroke-width="1.8"/><text x="808.75" y="1196.7" font-size="63">2</text>
<circle cx="826.6" cy="1338.5" r="35" fill="none" stroke="#1a1a1a" stroke-width="1.8"/><text x="812.1" y="1362" font-size="62">3</text>
<text x="896" y="1035" font-size="38" text-anchor="start">Eckeinbau PE C2L + PE C2R</text>
<text x="896" y="1188.8" font-size="38" text-anchor="start">U-Kabine PE C2L + PE C2R</text>
<text x="896" y="1238.6" font-size="38" text-anchor="start">+ PE TWD</text>
<text x="896" y="1351.3" font-size="38" text-anchor="start">U-Kabine PE C2L + PE C2R</text>
<text x="896" y="1401" font-size="38" text-anchor="start">+ PE TVD</text>
</svg></body></html>
